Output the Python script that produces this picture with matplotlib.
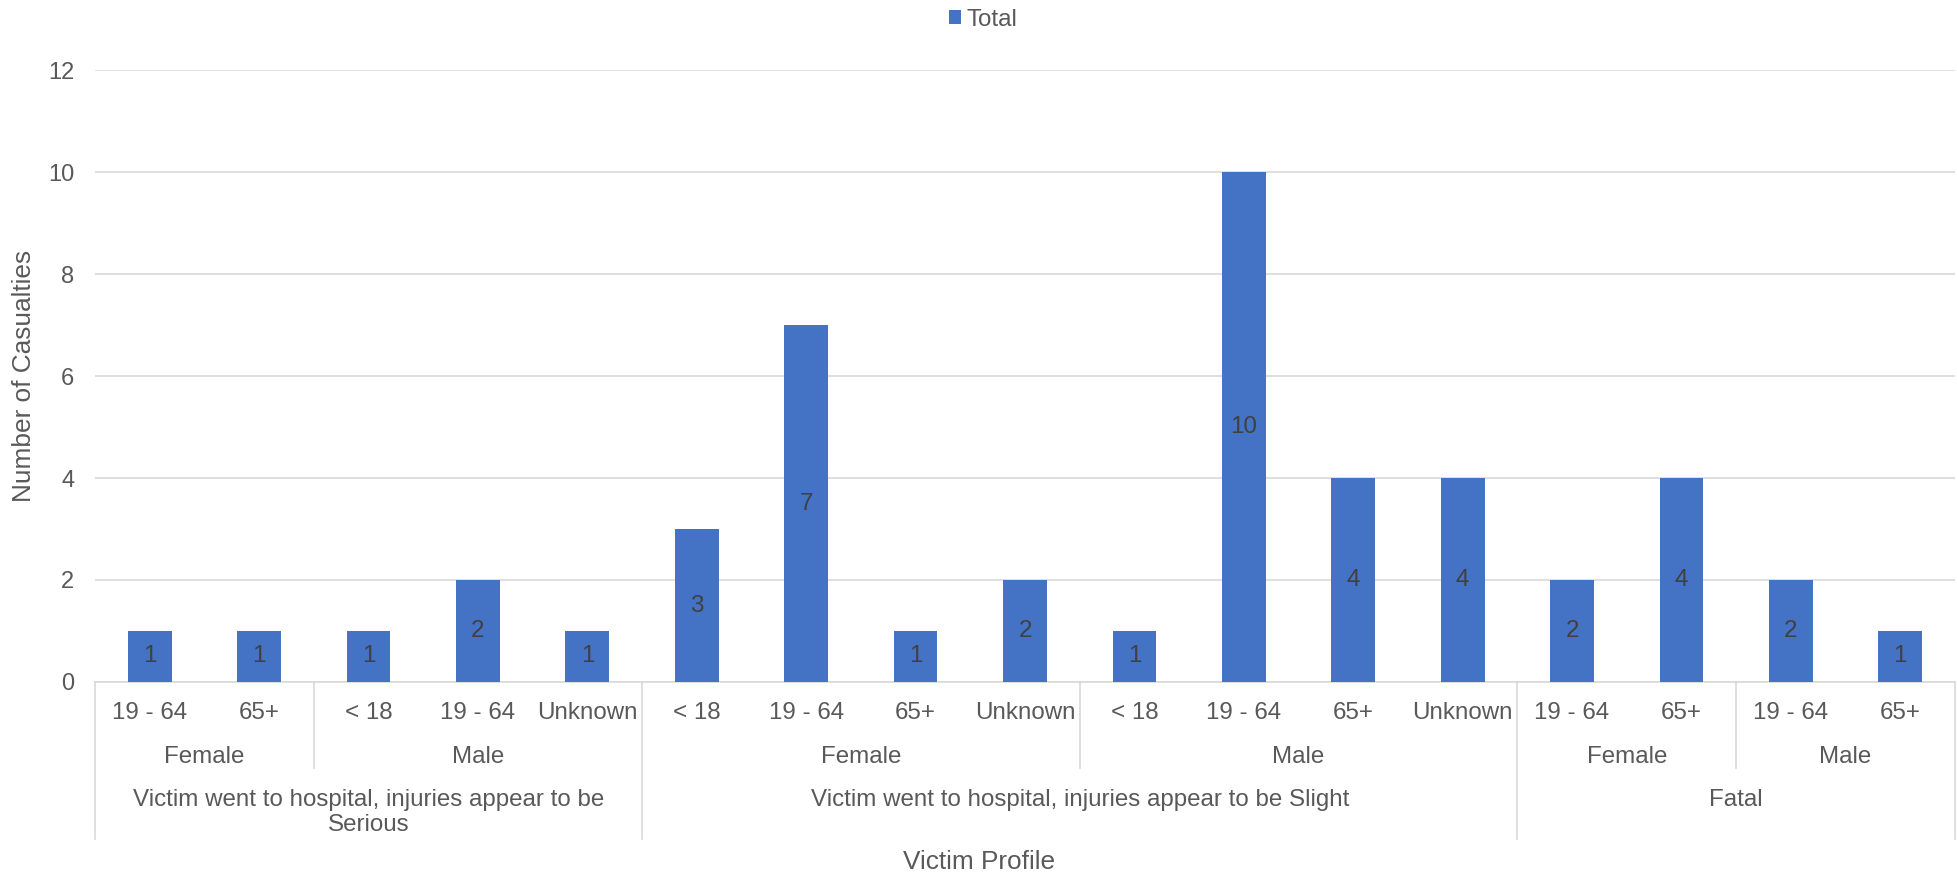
import textwrap
from itertools import groupby

import matplotlib
matplotlib.use("Agg")
import matplotlib.pyplot as plt

plt.rcParams["font.family"] = ["Liberation Sans", "DejaVu Sans"]

# ---- data -------------------------------------------------------------
severity = (
    ["Victim went to hospital, injuries appear to be Serious"] * 5
    + ["Victim went to hospital, injuries appear to be Slight"] * 8
    + ["Fatal"] * 4
)
gender = (
    ["Female"] * 2 + ["Male"] * 3
    + ["Female"] * 4 + ["Male"] * 4
    + ["Female"] * 2 + ["Male"] * 2
)
age_band = [
    "19 - 64", "65+", "< 18", "19 - 64", "Unknown",
    "< 18", "19 - 64", "65+", "Unknown",
    "< 18", "19 - 64", "65+", "Unknown",
    "19 - 64", "65+",
    "19 - 64", "65+",
]
totals = [1, 1, 1, 2, 1, 3, 7, 1, 2, 1, 10, 4, 4, 2, 4, 2, 1]
series_name = "Total"

# ---- style ------------------------------------------------------------
BAR = "#4472C4"
GRID = "#D9D9D9"
TEXT = "#595959"
LABEL = "#404040"
FS = 17.4
FS_Y = 17.0
FS_TITLE = 18.9

W, H = 1958, 874
fig = plt.figure(figsize=(W / 100, H / 100), dpi=100)

# plot area in pixels (left, top, right, bottom)
PL, PT, PR, PB = 95, 70, 1955, 682
ax = fig.add_axes([PL / W, 1 - PB / H, (PR - PL) / W, (PB - PT) / H])


def ay(py):
    """Pixel row below the plot -> axes-fraction y."""
    return (PB - py) / (PB - PT)


x = list(range(len(totals)))
bars = ax.bar(x, totals, width=0.40, color=BAR, label=series_name, zorder=3)
ax.bar_label(bars, label_type="center", color=LABEL, fontsize=FS)

ax.set_xlim(-0.5, len(totals) - 0.5)
ax.set_ylim(0, 12)
ax.set_yticks(range(0, 13, 2))
ax.yaxis.grid(True, color=GRID, linewidth=1.2, zorder=0)
ax.set_axisbelow(True)
for side in ("left", "right", "top"):
    ax.spines[side].set_visible(False)
ax.spines["bottom"].set_color(GRID)
ax.spines["bottom"].set_linewidth(1.2)
ax.tick_params(axis="y", length=0, pad=15, labelsize=FS_Y, labelcolor=TEXT)
ax.set_xticks(x, age_band)
ax.tick_params(axis="x", length=0, pad=14.2, labelsize=FS, labelcolor=TEXT)

trans = ax.get_xaxis_transform()
line_kw = dict(color=GRID, linewidth=1.2, transform=trans, clip_on=False)

# gender row
start = 0
for (sev, gen), grp in groupby(zip(severity, gender)):
    n = len(list(grp))
    ax.text(start + (n - 1) / 2, ay(763), gen, ha="center", va="baseline",
            fontsize=FS, color=TEXT, transform=trans)
    if start > 0 and severity[start - 1] == sev:
        ax.plot([start - 0.5] * 2, [0, ay(768)], **line_kw)
    start += n

# severity row
start = 0
for sev, grp in groupby(severity):
    n = len(list(grp))
    label = sev if len(sev) <= 10 * n else textwrap.fill(sev, width=47)
    ax.text(start + (n - 1) / 2, ay(789), label, ha="center", va="top",
            fontsize=FS, color=TEXT, transform=trans, linespacing=1.16)
    ax.plot([start - 0.5] * 2, [0, ay(839)], **line_kw)
    start += n
ax.plot([start - 0.5] * 2, [0, ay(839)], **line_kw)

# axis titles
fig.text(0.5, 1 - 869 / H, "Victim Profile", ha="center", va="baseline",
         fontsize=FS_TITLE, color=TEXT)
fig.text(24 / W, 1 - (PT + PB) / 2 / H, "Number of Casualties", ha="center",
         va="center", rotation=90, fontsize=FS_TITLE, color=TEXT)

# legend
fig.legend(handles=[bars], labels=[series_name], loc="center",
           bbox_to_anchor=(0.502, 1 - 20 / H), frameon=False, fontsize=FS,
           labelcolor=TEXT, handlelength=0.52, handleheight=0.52,
           handletextpad=0.2, borderpad=0, borderaxespad=0)

fig.savefig("out.png", dpi=100)
